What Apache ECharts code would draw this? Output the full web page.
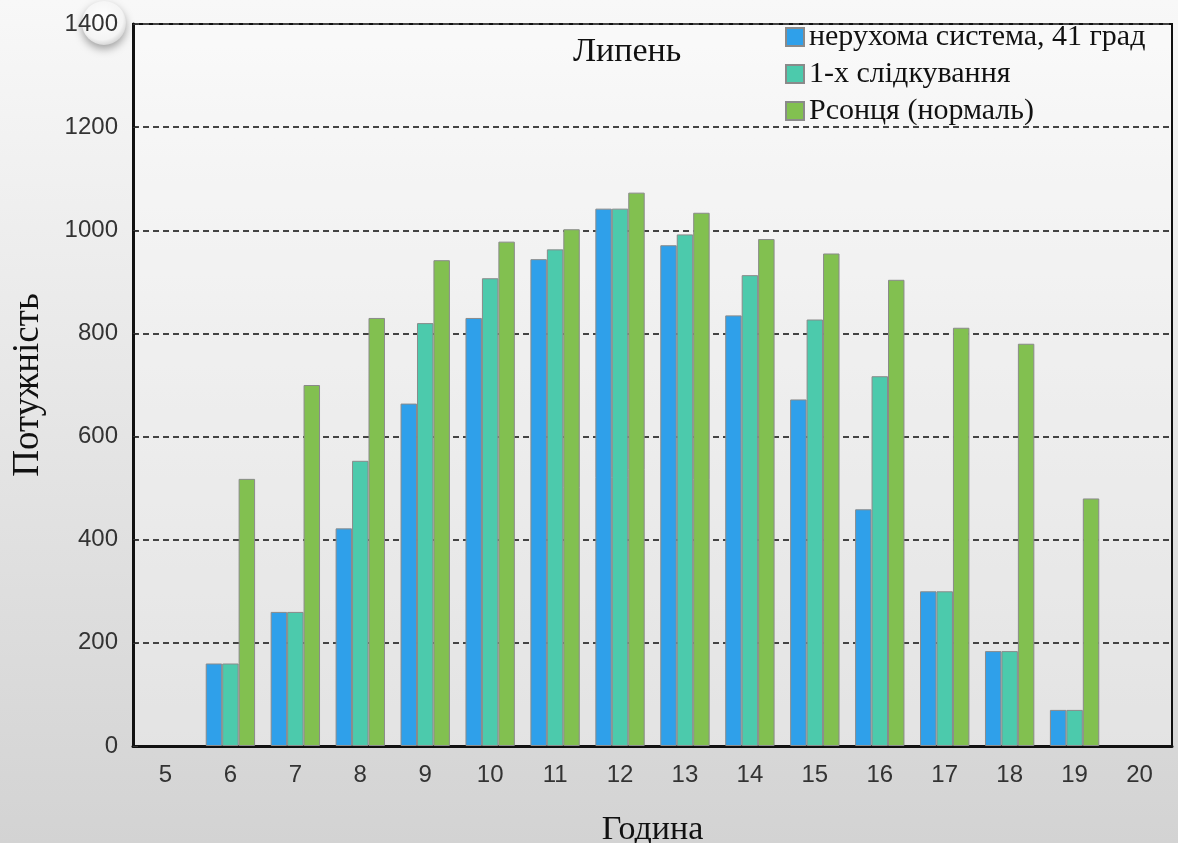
<!DOCTYPE html>
<html>
<head>
<meta charset="utf-8">
<title>Липень</title>
<script src="https://cdn.jsdelivr.net/npm/echarts@6/dist/echarts.min.js"></script>
<style>
  html, body { margin: 0; padding: 0; width: 1178px; height: 843px; overflow: hidden; }
  #chart { width: 1178px; height: 843px; }
</style>
</head>
<body>
<div id="chart"></div>
<script>
// Hours of the day
const hours = ['5', '6', '7', '8', '9', '10', '11', '12', '13', '14', '15', '16', '17', '18', '19', '20'];

// Power by hour, July
const fixedSystem = ['-', 160, 260, 422, 664, 830, 944, 1042, 971, 835, 672, 459, 300, 184, 70, '-'];
const singleAxisTracking = ['-', 160, 260, 553, 820, 907, 963, 1042, 992, 913, 827, 717, 300, 184, 70, '-'];
const sunNormal = ['-', 518, 700, 830, 942, 978, 1002, 1073, 1034, 983, 955, 904, 811, 780, 480, '-'];

const seriesNames = ['нерухома система, 41 град', '1-х слідкування', 'Рсонця (нормаль)'];
const seriesColors = ['#2fa0ea', '#4ccaac', '#82c050'];

const serif = '"Liberation Serif", "DejaVu Serif", serif';
const sans = '"Liberation Sans", Arial, sans-serif';

const chart = echarts.init(document.getElementById('chart'));

function barSeries(name, data, color) {
  return {
    name: name,
    type: 'bar',
    data: data,
    barGap: '0%',
    barCategoryGap: '24%',
    itemStyle: { color: color, borderColor: '#8a8a8a', borderWidth: 1 },
    emphasis: { disabled: true }
  };
}

chart.setOption({
  animation: false,
  backgroundColor: {
    type: 'linear', x: 0, y: 0, x2: 0, y2: 1,
    colorStops: [
      { offset: 0, color: '#f8f8f8' },
      { offset: 1, color: '#d3d3d3' }
    ]
  },
  title: {
    text: 'Липень',
    left: 573,
    top: 35,
    padding: 0,
    textStyle: { fontFamily: serif, fontSize: 34, fontWeight: 'normal', color: '#111' }
  },
  legend: {
    orient: 'vertical',
    left: 785,
    top: 22,
    padding: 0,
    itemWidth: 18,
    itemHeight: 18,
    itemGap: 7,
    icon: 'rect',
    selectedMode: false,
    textStyle: { fontFamily: serif, fontSize: 30, color: '#111' },
    data: seriesNames
  },
  grid: {
    left: 133,
    right: 6,
    top: 24,
    bottom: 97,
    outerBoundsMode: 'none',
    containLabel: false,
    show: true,
    backgroundColor: 'rgba(255,255,255,0.3)',
    borderColor: '#111',
    borderWidth: 2
  },
  xAxis: {
    type: 'category',
    data: hours,
    name: 'Година',
    nameLocation: 'middle',
    nameGap: 67,
    nameTextStyle: { fontFamily: serif, fontSize: 34, color: '#111' },
    axisLine: { lineStyle: { color: '#111', width: 3 } },
    axisTick: { show: false },
    axisLabel: { fontFamily: sans, fontSize: 24, color: '#333', margin: 17 }
  },
  yAxis: {
    type: 'value',
    min: 0,
    max: 1400,
    interval: 200,
    name: 'Потужність',
    nameLocation: 'middle',
    nameGap: 86,
    nameTextStyle: { fontFamily: serif, fontSize: 37, color: '#111' },
    axisLine: { show: true, lineStyle: { color: '#111', width: 3 } },
    axisTick: { show: true, inside: true, length: 5, lineStyle: { color: '#333' } },
    axisLabel: {
      fontFamily: sans, fontSize: 24, color: '#333', margin: 15,
      formatter: function (v) { return String(v); }
    },
    splitLine: { show: true, lineStyle: { color: '#444', width: 2, type: [6, 4] } }
  },
  graphic: [
    {
      type: 'circle',
      shape: { cx: 104, cy: 23, r: 22 },
      z: -1,
      silent: true,
      style: {
        fill: {
          type: 'radial', x: 0.45, y: 0.4, r: 0.6,
          colorStops: [
            { offset: 0, color: '#ffffff' },
            { offset: 0.8, color: '#f4f4f4' },
            { offset: 1, color: '#d8d8d8' }
          ]
        },
        shadowBlur: 8,
        shadowOffsetY: 4,
        shadowColor: 'rgba(0,0,0,0.35)'
      }
    }
  ],
  series: [
    barSeries(seriesNames[0], fixedSystem, seriesColors[0]),
    barSeries(seriesNames[1], singleAxisTracking, seriesColors[1]),
    barSeries(seriesNames[2], sunNormal, seriesColors[2])
  ]
});
</script>
</body>
</html>
